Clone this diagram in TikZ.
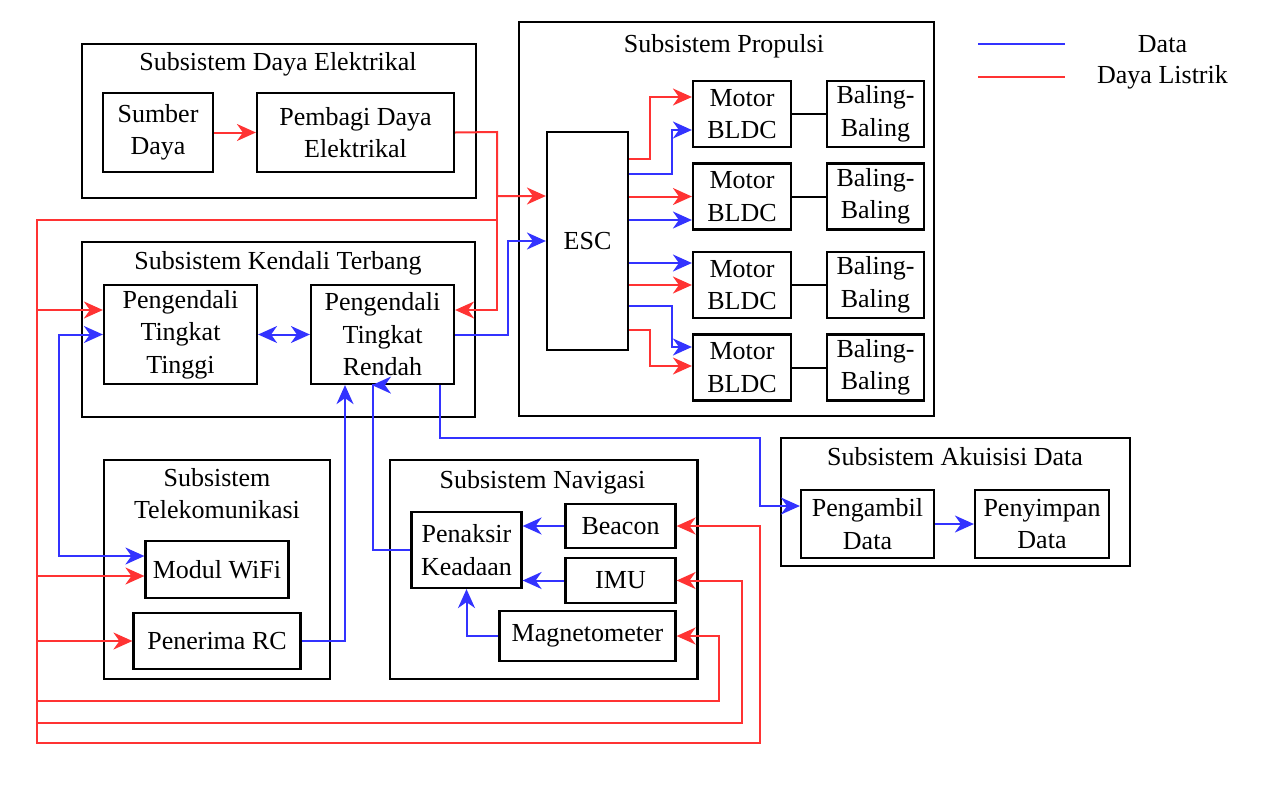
\documentclass[tikz,border=0pt]{standalone}
\usepackage{fontspec}
\setmainfont{Liberation Serif}
\usetikzlibrary{arrows.meta}
\definecolor{daya}{RGB}{255,51,51}
\definecolor{data}{RGB}{51,51,255}
\tikzset{
  grp/.style={draw,line width=2.2pt,inner sep=0pt},
  blok/.style={draw,line width=2.2pt,inner sep=0pt,align=center},
  pwr/.style={daya,line width=2pt,-{Stealth[length=19pt,width=17pt,inset=6pt]}},
  dat/.style={data,line width=2pt,-{Stealth[length=19pt,width=17pt,inset=6pt]}},
  poros/.style={line width=2pt}
}
\begin{document}
\begin{tikzpicture}[x=1pt,y=-1pt,font=\fontsize{26}{32.5}\selectfont]
\useasboundingbox (0,0) rectangle (1263,785);

\node[grp,minimum width=394pt,minimum height=154pt] (sDaya) at (279,121) {};
\node[] (tDaya) at (278,64) {Subsistem Daya Elektrikal};
\node[blok,minimum width=110pt,minimum height=79pt] (sumber) at (158,132.5) {Sumber\\Daya};
\node[blok,minimum width=197pt,minimum height=79pt] (pembagi) at (355.5,132.5) {Pembagi Daya\\Elektrikal};

\node[grp,minimum width=415pt,minimum height=394pt] (sProp) at (726.5,219) {};
\node[] (tProp) at (724,46) {Subsistem Propulsi};
\node[blok,minimum width=81pt,minimum height=218pt] (esc) at (587.5,241) {ESC};
\foreach \i/\y in {1/114,2/196.5,3/285,4/367.5}{
  \node[blok,minimum width=98pt,minimum height=66pt] (motor\i) at (742,\y) {Motor\\BLDC};
  \node[blok,minimum width=97pt,minimum height=66pt] (baling\i) at (875.5,\y) {Baling-\\Baling};
  \draw[poros] (motor\i.east) -- (baling\i.west);
}

\node[grp,minimum width=393pt,minimum height=175pt] (sKendali) at (278.5,329.5) {};
\node[] (tKendali) at (278,263) {Subsistem Kendali Terbang};
\node[blok,minimum width=153pt,minimum height=99pt] (tinggi) at (180.5,334.5) {Pengendali\\Tingkat\\Tinggi};
\node[blok,minimum width=143pt,minimum height=99pt] (rendah) at (382.5,334.5) {Pengendali\\Tingkat\\Rendah};

\node[grp,minimum width=226pt,minimum height=219pt] (sTelkom) at (217,569.5) {};
\node[align=center] (tTelkom) at (217,493.5) {Subsistem\\Telekomunikasi};
\node[blok,minimum width=143pt,minimum height=57pt] (wifi) at (217,569.5) {Modul WiFi};
\node[blok,minimum width=167pt,minimum height=56pt] (rc) at (217,641) {Penerima RC};

\node[grp,minimum width=307.5pt,minimum height=219pt] (sNav) at (543.75,569.5) {};
\node[] (tNav) at (542.5,482) {Subsistem Navigasi};
\node[blok,minimum width=110pt,minimum height=76pt] (penaksir) at (466.5,550) {Penaksir\\Keadaan};
\node[blok,minimum width=110pt,minimum height=44pt] (beacon) at (620.5,526) {Beacon};
\node[blok,minimum width=110pt,minimum height=45pt] (imu) at (620.5,580.5) {IMU};
\node[blok,minimum width=176pt,minimum height=50pt] (magneto) at (587.5,636) {Magnetometer};

\node[grp,minimum width=349pt,minimum height=128pt] (sAkuisisi) at (955.5,502) {};
\node[] (tAkuisisi) at (955,457) {Subsistem Akuisisi Data};
\node[blok,minimum width=133pt,minimum height=68pt] (pengambil) at (867.5,524) {Pengambil\\Data};
\node[blok,minimum width=134pt,minimum height=68pt] (penyimpan) at (1042,524) {Penyimpan\\Data};

\coordinate (lgA) at (978,44);
\coordinate (lgB) at (978,77);
\draw[data,line width=2pt] (lgA) -- ++(87,0);
\draw[daya,line width=2pt] (lgB) -- ++(87,0);
\node[] (lgData) at (1162.5,44) {Data};
\node[] (lgDaya) at (1162.5,77) {Daya Listrik};

\coordinate (bus) at (497,132);
\coordinate (kiri) at (37,220);
\draw[pwr] (sumber.east) -- (pembagi.west);
\draw[pwr] (pembagi.east) -- (bus) |- ([yshift=45pt]esc.west);
\draw[pwr] (bus) |- ([yshift=24.5pt]rendah.east);
\draw[pwr] (bus |- kiri) -- (kiri) -- (37,743) -| (760,526) -- (beacon.east);
\draw[pwr] (kiri |- tinggi) ++(0,-24.5) -- ([yshift=24.5pt]tinggi.west);
\draw[pwr] (kiri |- wifi) ++(0,6.5) -- ([yshift=-6.5pt]wifi.west);
\draw[pwr] (kiri |- rc) -- (rc.west);
\draw[pwr] (kiri |- 0,701) -| (719,636) -- (magneto.east);
\draw[pwr] (kiri |- 0,723) -| (741.5,580.5) -- (imu.east);

\draw[pwr] ([yshift=82pt]esc.east) -| (650,97) -- ([yshift=17pt]motor1.west);
\draw[dat] ([yshift=67pt]esc.east) -| (672,130) -- ([yshift=-16pt]motor1.west);
\draw[pwr] (esc.east |- motor2.west) -- (motor2.west);
\draw[dat] ([yshift=21pt]esc.east) -- ([yshift=-23.5pt]motor2.west);
\draw[dat] ([yshift=-22pt]esc.east) -- ([yshift=22pt]motor3.west);
\draw[pwr] (esc.east |- motor3.west) -- (motor3.west);
\draw[dat] ([yshift=-65pt]esc.east) -| (672,347) -- ([yshift=20.5pt]motor4.west);
\draw[pwr] ([yshift=-89pt]esc.east) -| (650,366) -- ([yshift=1.5pt]motor4.west);

\draw[dat] (rendah.east) -- ++(53,0) |- (esc.west);
\draw[dat,{Stealth[length=19pt,width=17pt,inset=6pt]}-{Stealth[length=19pt,width=17pt,inset=6pt]}] (tinggi.east) -- (rendah.west);
\draw[dat,{Stealth[length=19pt,width=17pt,inset=6pt]}-{Stealth[length=19pt,width=17pt,inset=6pt]}] (tinggi.west) -- ++(-44,0) |- ([yshift=13.5pt]wifi.west);
\draw[dat] (rc.east) -| ([xshift=-37.5pt]rendah.south);
\draw[dat] (penaksir.west) -- ++(-37.5,0) |- ([xshift=-10.5pt]rendah.south);
\draw[dat] ([xshift=57.5pt]rendah.south) |- (760,438) |- ([yshift=18pt]pengambil.west);
\draw[dat] (pengambil.east) -- (penyimpan.west);
\draw[dat] (beacon.west) -- (beacon.west -| penaksir.east);
\draw[dat] (imu.west) -- (imu.west -| penaksir.east);
\draw[dat] (magneto.west) -| (penaksir.south);
\end{tikzpicture}
\end{document}
